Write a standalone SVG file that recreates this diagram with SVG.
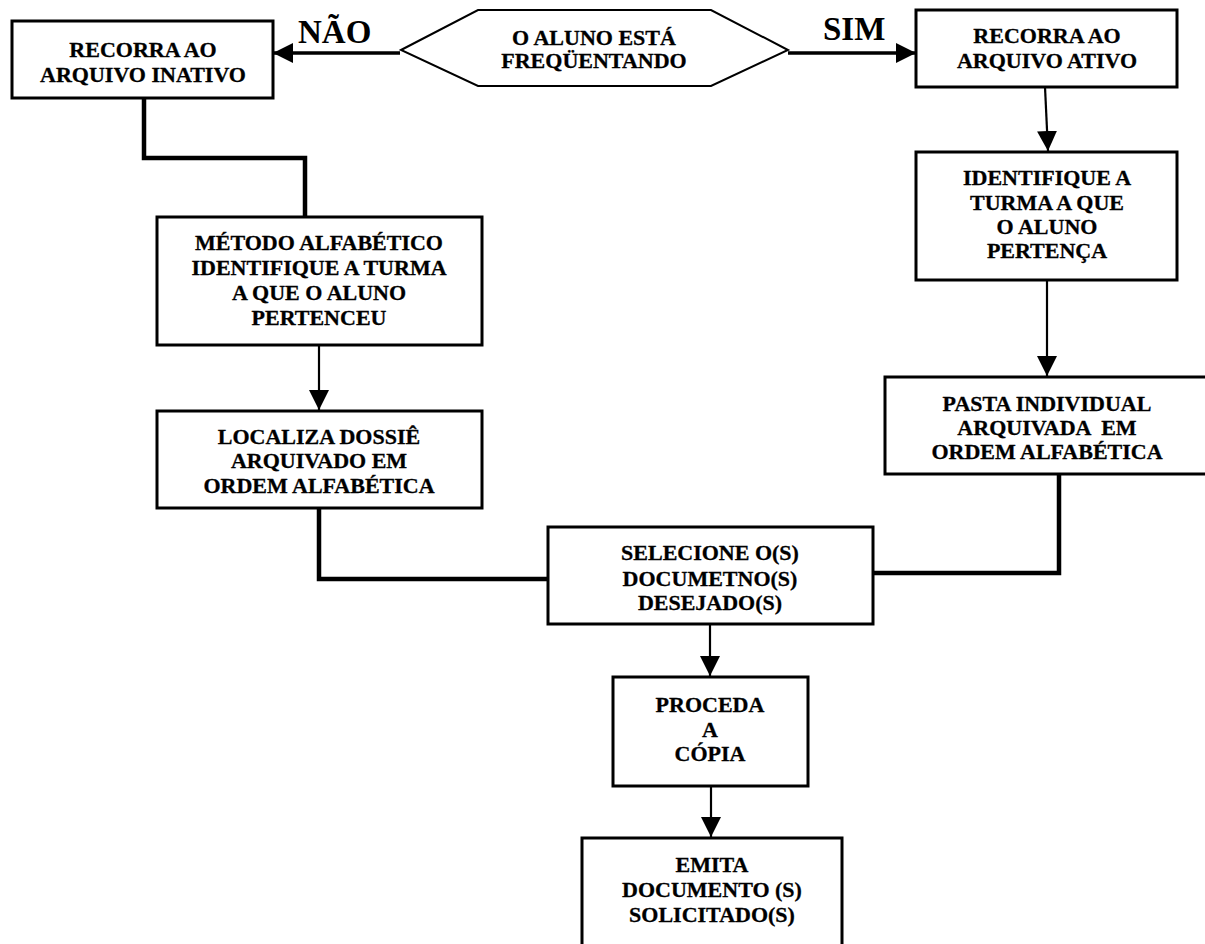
<svg xmlns="http://www.w3.org/2000/svg" width="1205" height="944" viewBox="0 0 1205 944">
<style>
.box{fill:#fff;stroke:#000;stroke-width:3}
.hex{fill:#fff;stroke:#000;stroke-width:2}
.t{font-family:"Liberation Serif","Times New Roman",serif;font-weight:bold;font-size:22px;fill:#000;stroke:#000;stroke-width:0.3;text-anchor:middle}
.lbl{font-family:"Liberation Serif","Times New Roman",serif;font-weight:bold;font-size:33px;fill:#000}
.thin{fill:none;stroke:#000;stroke-width:2.2}
.mid{fill:none;stroke:#000;stroke-width:3.4}
.thick{fill:none;stroke:#000;stroke-width:4.5}
</style>
<defs>
<marker id="ah" viewBox="0 0 20 20" markerWidth="20" markerHeight="20" refX="20" refY="10" orient="auto" markerUnits="userSpaceOnUse">
<path d="M0,0 L20,10 L0,20 z" fill="#000"/>
</marker>
</defs>
<rect width="1205" height="944" fill="#fff"/>
<g id="connectors">
<path class="mid" d="M400,53 L273,53" marker-end="url(#ah)"/>
<path class="mid" d="M788,53 L916,53" marker-end="url(#ah)"/>
<path class="thin" d="M1045,87 L1048,151" marker-end="url(#ah)"/>
<path class="thin" d="M1047,280 L1047,376" marker-end="url(#ah)"/>
<path class="thin" d="M319,345 L319,410" marker-end="url(#ah)"/>
<path class="thin" d="M710,624 L710,676" marker-end="url(#ah)"/>
<path class="thin" d="M711,786 L711,837" marker-end="url(#ah)"/>
<path class="thick" d="M144,98 V158 H305 V217"/>
<path class="thick" d="M319,508 V579 H548"/>
<path class="thick" d="M1059,474 V573 H873"/>
<text class="lbl" x="298" y="43">NÃO</text>
<text class="lbl" x="823" y="40">SIM</text>
</g>
<g id="decision">
<polygon class="hex" points="401,50 478,10 711,10 788,50 711,86 478,86"/>
<text class="t" x="594" y="45">O ALUNO ESTÁ</text>
<text class="t" x="594" y="68">FREQÜENTANDO</text>
</g>
<g id="inativo">
<rect class="box" x="12" y="21" width="261" height="77"/>
<text class="t" x="143" y="57">RECORRA AO</text>
<text class="t" x="143" y="82">ARQUIVO INATIVO</text>
</g>
<g id="ativo">
<rect class="box" x="916" y="10" width="261" height="77"/>
<text class="t" x="1047" y="43">RECORRA AO</text>
<text class="t" x="1047" y="68">ARQUIVO ATIVO</text>
</g>
<g id="identifique">
<rect class="box" x="916" y="152" width="261" height="128"/>
<text class="t" x="1047" y="185">IDENTIFIQUE A</text>
<text class="t" x="1047" y="210">TURMA A QUE</text>
<text class="t" x="1047" y="234">O ALUNO</text>
<text class="t" x="1047" y="258">PERTENÇA</text>
</g>
<g id="pasta">
<rect class="box" x="885" y="377" width="330" height="97"/>
<text class="t" x="1047" y="411">PASTA INDIVIDUAL</text>
<text class="t" x="1047" y="435" style="white-space:pre">ARQUIVADA  EM</text>
<text class="t" x="1047" y="459">ORDEM ALFABÉTICA</text>
</g>
<g id="metodo">
<rect class="box" x="157" y="217" width="325" height="128"/>
<text class="t" x="319" y="250">MÉTODO ALFABÉTICO</text>
<text class="t" x="319" y="275">IDENTIFIQUE A TURMA</text>
<text class="t" x="319" y="300">A QUE O ALUNO</text>
<text class="t" x="319" y="325">PERTENCEU</text>
</g>
<g id="localiza">
<rect class="box" x="157" y="411" width="325" height="97"/>
<text class="t" x="319" y="444">LOCALIZA DOSSIÊ</text>
<text class="t" x="319" y="468">ARQUIVADO EM</text>
<text class="t" x="319" y="493">ORDEM ALFABÉTICA</text>
</g>
<g id="selecione">
<rect class="box" x="548" y="527" width="325" height="97"/>
<text class="t" x="710" y="560">SELECIONE O(S)</text>
<text class="t" x="710" y="586">DOCUMETNO(S)</text>
<text class="t" x="710" y="610">DESEJADO(S)</text>
</g>
<g id="proceda">
<rect class="box" x="613" y="677" width="195" height="109"/>
<text class="t" x="710" y="712">PROCEDA</text>
<text class="t" x="710" y="737">A</text>
<text class="t" x="710" y="761">CÓPIA</text>
</g>
<g id="emita">
<rect class="box" x="582" y="838" width="260" height="120"/>
<text class="t" x="712" y="872">EMITA</text>
<text class="t" x="712" y="897">DOCUMENTO (S)</text>
<text class="t" x="712" y="922">SOLICITADO(S)</text>
</g>
</svg>
